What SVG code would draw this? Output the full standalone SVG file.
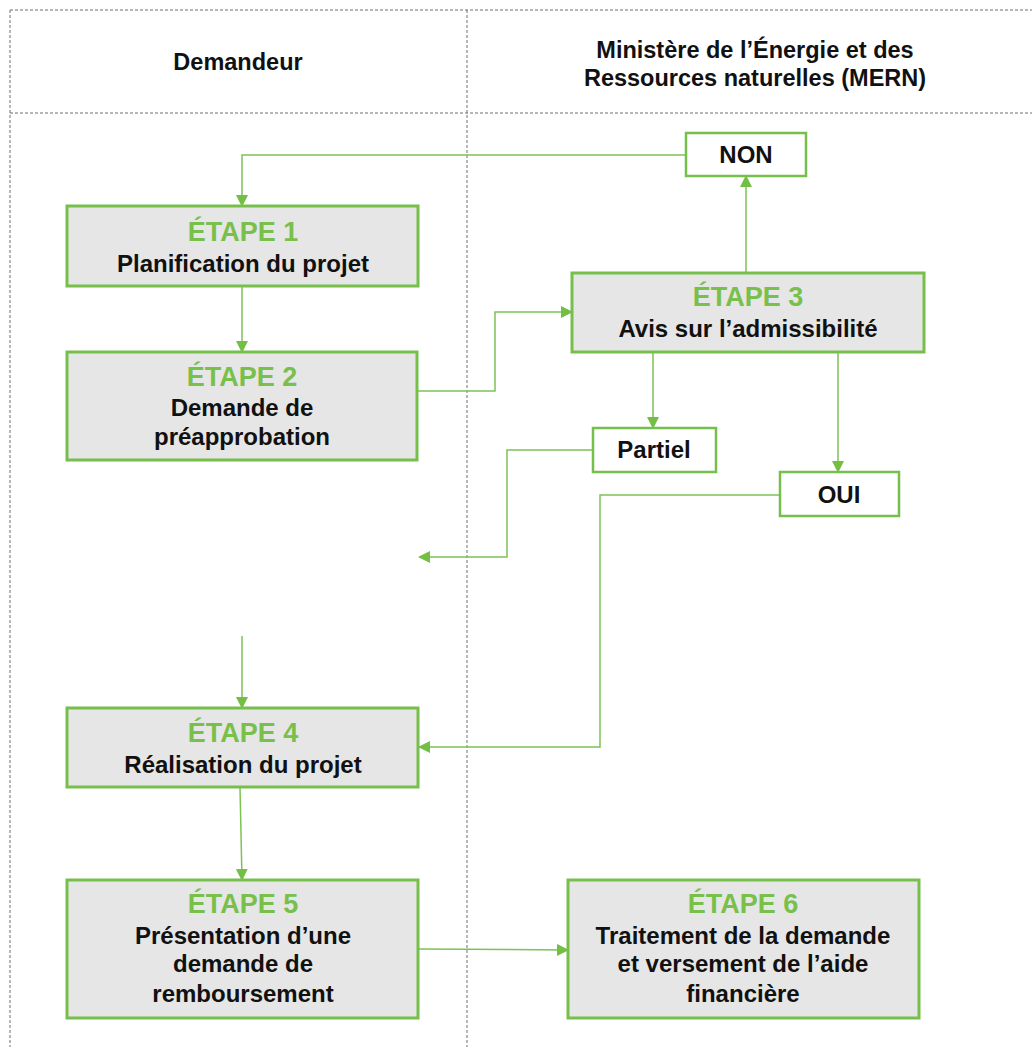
<svg xmlns="http://www.w3.org/2000/svg" width="1032" height="1047" viewBox="0 0 1032 1047">
<defs>
<style>
.lane{fill:none;stroke:#6f6f6f;stroke-width:1;stroke-dasharray:3,2}
.hdr{font-family:"Liberation Sans",Arial,sans-serif;font-size:23.5px;font-weight:bold;fill:#111;text-anchor:middle}
.step{fill:#e6e6e6;stroke:#76bf4b;stroke-width:3}
.opt{fill:#fff;stroke:#76bf4b;stroke-width:2.5}
.ttl{font-family:"Liberation Sans",Arial,sans-serif;font-size:27px;font-weight:bold;fill:#78c04a;text-anchor:middle}
.txt{font-family:"Liberation Sans",Arial,sans-serif;font-size:24px;font-weight:bold;fill:#111;text-anchor:middle}
.con{fill:none;stroke:#7cc255;stroke-width:1.5}
</style>
<marker id="ah" viewBox="0 0 12 12" refX="11" refY="6" markerWidth="12" markerHeight="12" markerUnits="userSpaceOnUse" orient="auto">
<path d="M0,0 L12,6 L0,12 Z" fill="#72bf44"/>
</marker>
</defs>
<rect width="1032" height="1047" fill="#fff"/>
<g id="lanes">
<line class="lane" x1="10" y1="10" x2="1032" y2="10"/>
<line class="lane" x1="10" y1="113" x2="1032" y2="113"/>
<line class="lane" x1="10" y1="10" x2="10" y2="1047"/>
<line class="lane" x1="467" y1="10" x2="467" y2="1047"/>
<text class="hdr" x="238" y="70">Demandeur</text>
<text class="hdr" x="755" y="58">Ministère de l’Énergie et des</text>
<text class="hdr" x="755" y="86">Ressources naturelles (MERN)</text>
</g>
<g id="connectors">
<polyline class="con" points="686,155 242,155 242,206" marker-end="url(#ah)"/>
<polyline class="con" points="746,273 746,176" marker-end="url(#ah)"/>
<polyline class="con" points="242,286 242,352" marker-end="url(#ah)"/>
<polyline class="con" points="417,391 495,391 495,312 572,312" marker-end="url(#ah)"/>
<polyline class="con" points="653,352 653,428" marker-end="url(#ah)"/>
<polyline class="con" points="838,352 838,472" marker-end="url(#ah)"/>
<polyline class="con" points="593,450 507,450 507,557 419,557" marker-end="url(#ah)"/>
<polyline class="con" points="242,636 242,708" marker-end="url(#ah)"/>
<polyline class="con" points="780,495 600,495 600,747 419,747" marker-end="url(#ah)"/>
<polyline class="con" points="240,787 242,880" marker-end="url(#ah)"/>
<polyline class="con" points="418,949 568,950" marker-end="url(#ah)"/>
</g>
<g id="etape1">
<rect class="step" x="67" y="206" width="351" height="80"/>
<text class="ttl" x="243" y="241">ÉTAPE 1</text>
<text class="txt" x="243" y="272">Planification du projet</text>
</g>
<g id="etape2">
<rect class="step" x="67" y="352" width="350" height="108"/>
<text class="ttl" x="242" y="386">ÉTAPE 2</text>
<text class="txt" x="242" y="416">Demande de</text>
<text class="txt" x="242" y="445">préapprobation</text>
</g>
<g id="etape3">
<rect class="step" x="572" y="273" width="352" height="79"/>
<text class="ttl" x="748" y="306">ÉTAPE 3</text>
<text class="txt" x="748" y="337">Avis sur l’admissibilité</text>
</g>
<g id="non">
<rect class="opt" x="686" y="133" width="120" height="43"/>
<text class="txt" x="746" y="163">NON</text>
</g>
<g id="partiel">
<rect class="opt" x="593" y="428" width="123" height="44"/>
<text class="txt" x="654" y="458">Partiel</text>
</g>
<g id="oui">
<rect class="opt" x="780" y="472" width="119" height="44"/>
<text class="txt" x="839" y="503">OUI</text>
</g>
<g id="etape4">
<rect class="step" x="67" y="708" width="351" height="79"/>
<text class="ttl" x="243" y="742">ÉTAPE 4</text>
<text class="txt" x="243" y="773">Réalisation du projet</text>
</g>
<g id="etape5">
<rect class="step" x="67" y="880" width="351" height="138"/>
<text class="ttl" x="243" y="913">ÉTAPE 5</text>
<text class="txt" x="243" y="944">Présentation d’une</text>
<text class="txt" x="243" y="972">demande de</text>
<text class="txt" x="243" y="1002">remboursement</text>
</g>
<g id="etape6">
<rect class="step" x="568" y="880" width="351" height="138"/>
<text class="ttl" x="743" y="913">ÉTAPE 6</text>
<text class="txt" x="743" y="944">Traitement de la demande</text>
<text class="txt" x="743" y="972">et versement de l’aide</text>
<text class="txt" x="743" y="1002">financière</text>
</g>
</svg>
